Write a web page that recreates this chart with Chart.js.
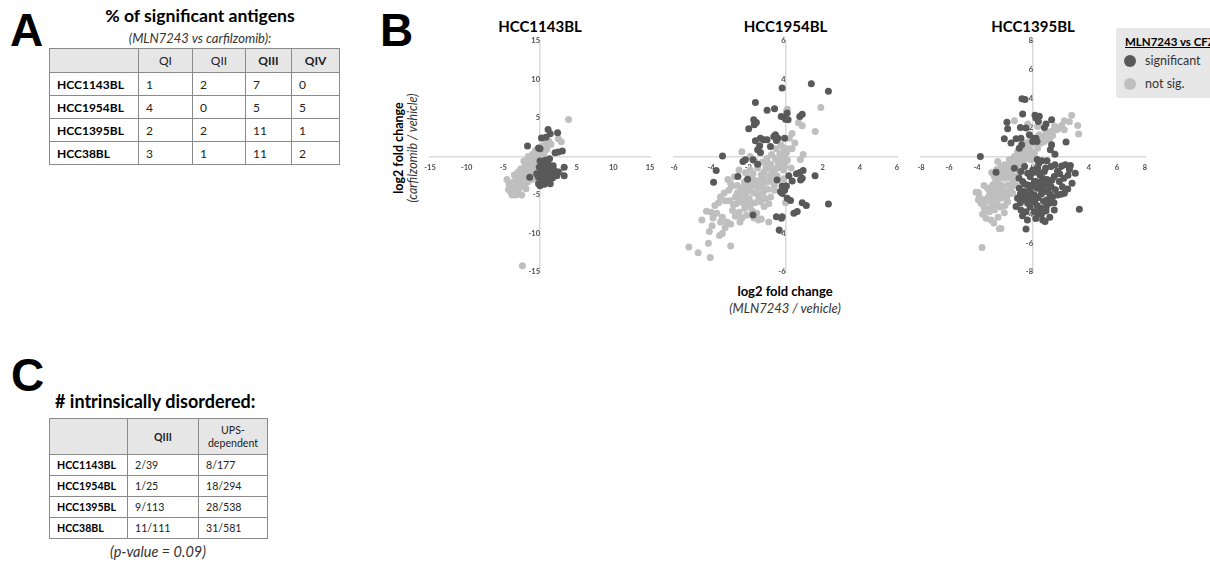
<!DOCTYPE html>
<html>
<head>
<meta charset="utf-8">
<script src="https://cdn.jsdelivr.net/npm/chart.js@4.4.1/dist/chart.umd.min.js"></script>
<style>
  body { margin: 0; width: 1210px; height: 562px; overflow: hidden; background: #fff; position: relative; font-family: Lato, 'Open Sans', sans-serif; color: #000; }
  .abs { position: absolute; white-space: nowrap; }
  .letter { font-family: 'Liberation Sans', Arial, sans-serif; font-weight: bold; font-size: 46px; line-height: 46px; }
  table { border-collapse: collapse; position: absolute; table-layout: fixed; }
  td, th { border: 1px solid #8a8a8a; padding: 0 0 0 7px; text-align: left; color: #222; }
  th { background: #e7e6e6; font-weight: normal; text-align: center; padding: 0; color: #222; }
  td.rl { font-weight: bold; color: #000; }
  .plot { position: absolute; }
  .dot { position: absolute; width: 12px; height: 12px; border-radius: 50%; }
</style>
</head>
<body>

<!-- panel A -->
<div class="abs letter" style="left:10px;top:7px">A</div>
<div class="abs" style="left:55px;width:290px;top:5px;text-align:center;font-weight:bold;font-size:17.6px;line-height:21px">% of significant antigens</div>
<div class="abs" style="left:55px;width:290px;top:31px;text-align:center;font-style:italic;font-size:13px;line-height:15px;color:#333">(MLN7243 vs carfilzomib):</div>
<table id="tableA" style="left:49px;top:48px;font-size:12px"></table>

<!-- panel C -->
<div class="abs letter" style="left:11px;top:352px">C</div>
<div class="abs" style="left:55px;top:391px;font-weight:bold;font-size:18px;line-height:21px"># intrinsically disordered:</div>
<table id="tableC" style="left:49px;top:418px;font-size:10.6px"></table>
<div class="abs" style="left:58px;width:200px;top:543px;text-align:center;font-style:italic;font-size:14.5px;line-height:17px;color:#333">(p-value = 0.09)</div>

<!-- panel B -->
<div class="abs letter" style="left:380px;top:7px">B</div>
<div class="abs" style="left:327px;top:133px;width:160px;height:30px;transform:rotate(-90deg);text-align:center;font-size:12.5px;line-height:14px">
  <div style="font-weight:bold">log2 fold change</div>
  <div style="font-style:italic;color:#333">(carfilzomib / vehicle)</div>
</div>
<div class="abs" style="left:705px;width:160px;top:283px;text-align:center;font-weight:bold;font-size:13px;line-height:16px">log2 fold change</div>
<div class="abs" style="left:705px;width:160px;top:300px;text-align:center;font-style:italic;font-size:13px;line-height:16px;color:#333">(MLN7243 / vehicle)</div>

<div id="titles"></div>
<div class="plot" id="p0"><canvas id="c0"></canvas></div>
<div class="plot" id="p1"><canvas id="c1"></canvas></div>
<div class="plot" id="p2"><canvas id="c2"></canvas></div>

<!-- legend -->
<div class="abs" style="left:1116px;top:28px;width:110px;height:70px;background:#e7e7e7;border-radius:3px"></div>
<div class="abs" style="left:1125px;top:35px;font-weight:bold;font-size:11.5px;line-height:14px;text-decoration:underline">MLN7243 vs CFZ</div>
<div class="dot" style="left:1124px;top:55px;background:#595959"></div>
<div class="abs" style="left:1145px;top:53px;font-size:12.5px;line-height:15px;color:#333">significant</div>
<div class="dot" style="left:1124px;top:78px;background:#bfbfbf"></div>
<div class="abs" style="left:1145px;top:76px;font-size:12.5px;line-height:15px;color:#333">not sig.</div>

<script>
// tables
const cellLines = ['HCC1143BL', 'HCC1954BL', 'HCC1395BL', 'HCC38BL'];
const quadrants = ['QI', 'QII', 'QIII', 'QIV'];
const pctSignificant = [[1, 2, 7, 0], [4, 0, 5, 5], [2, 2, 11, 1], [3, 1, 11, 2]];
const disorderedQIII = ['2/39', '1/25', '9/113', '11/111'];
const disorderedUPS = ['8/177', '18/294', '28/538', '31/581'];

// scatter panels: [log2 FC MLN7243, log2 FC carfilzomib]
const titles = ['HCC1143BL', 'HCC1954BL', 'HCC1395BL'];
const axisLimits = [15, 6, 8];
const tickSteps = [5, 2, 2];

const hcc1143Sig = [[1.1,3.5],[1.4,2.95],[2.4,3.1],[0.2,2.4],[0.8,2.5],[-1.7,1.35],[-0.2,1.1],[0,1.0],[2.05,0.5],[2.5,0.6],[3.05,0.7],
  [3.3,-1.4],[3.3,-2.5],[-1.4,-2.7],[0.7,-0.5],[1.1,-0.95],[1.8,-1.2],[0.2,-1.8],[1.6,-2.0],[2.05,-2.25],[-0.2,-2.7],[0.7,-2.9],
  [1.4,-3.55],[0,-3.8],[2.3,-2.5],[2.5,-2.0],[0.9,-1.6],[0.45,-2.25],[1.1,-2.5],[-0.2,-3.55],[-0.45,-2.25],[0.4,-1.2],[1.3,-0.3],
  [-0.1,-1.4],[0.8,-3.3],[1.7,-2.8],[0.3,-0.7],[1.5,-1.7],[0.6,-3.6],[0.5,-1.6],[1.3,-1.9],[0.9,-2.3],[0.3,-3.0],[1.2,-3.1],
  [0.1,-2.2],[1.9,-1.8],[0.6,-1.0],[0.0,-0.6]];
const hcc1143NotSig = [[-4.2,-3.6],[-3.9,-4.1],[-3.6,-3.3],[-3.4,-4.5],[-3.2,-3.0],[-3.0,-3.8],[-2.8,-2.6],[-2.7,-4.0],[-2.5,-3.2],
  [-2.3,-2.2],[-2.2,-3.6],[-2.0,-2.8],[-1.8,-1.8],[-1.7,-3.3],[-1.5,-2.4],[-1.3,-1.5],[-1.2,-2.0],[-1.0,-1.0],[-0.9,-2.5],[-0.7,-0.6],
  [-0.5,-1.4],[-0.3,-0.2],[-0.2,0.5],[0.0,0.2],[0.2,0.9],[0.4,1.4],[0.6,0.7],[0.8,1.8],[1.0,1.3],[1.2,2.0],[1.5,1.6],[-2.6,-1.6],
  [-2.0,-1.0],[-1.5,-0.4],[-1.0,0.3],[-0.6,0.8],[-3.5,-2.4],[-4.5,-3.0],[-1.6,0.0],[-2.2,-0.6],[2.5,2.3],[2.9,1.9],[3.9,4.8],
  [-2.4,-14.2],[-0.6,-2.9],[-3.0,-2.0],[-1.9,-4.2],[-3.8,-5.0],[-2.9,-4.8],[2.7,-2.0],[-1.1,-3.0],[-4.0,-4.6],
  [-4.3,-4.3],[-3.7,-3.8],[-3.3,-3.6],[-2.9,-3.2],[-2.4,-2.7],[-1.9,-2.3],[-1.4,-1.9],[-0.9,-1.5],[-0.4,-0.8],[0.1,-0.2],
  [0.5,0.3],[0.9,0.9],[-3.1,-4.3],[-2.6,-3.7],[-2.1,-3.1],[-1.6,-2.8],[-1.1,-2.3],[-0.7,-1.9],[-0.3,-1.0],[0.3,0.5],[-0.8,-0.2],
  [-1.3,-0.8],[-1.8,-1.3],[-2.4,-1.9],[-3.0,-2.6],[-3.3,-5.0],[-2.5,-5.0]];

const hcc1954Sig = [[-0.18,3.56],[-1.62,2.81],[-0.99,2.4],[-0.59,2.48],[-0.23,2.08],[0.09,2.26],[-1.71,1.91],[-1.57,1.77],[-1.68,1.65],
  [-1.98,1.44],[-0.54,1.13],[-0.41,0.95],[-0.49,0.83],[-0.63,1.04],[-1.62,0.82],[-1.35,0.95],[-1.17,0.87],[-0.99,0.87],[-1.39,0.56],
  [-1.5,0.35],[-1.35,0.21],[-0.81,0.52],[-0.05,0.95],[-3.39,0.03],[-2.29,-0.26],[-2.16,-0.17],[-1.75,-0.17],[-1.5,-0.4],[-3.73,-0.73],
  [-3.87,-1.34],[-2.56,-1.04],[-2.04,-1.18],[-0.45,-1.22],[-0.18,-1.53],[0,-1.53],[-0.27,-1.82],[-0.04,-1.74],[-1.75,-3.04],[-0.49,-3.13],
  [-0.22,-3.21],[-0.34,-3.82],[1.39,3.78],[2.31,3.39],[0,1.94],[0.14,1.91],[0.77,2.08],[0.9,2.2],[0.18,-1.0],[0.59,-0.9],[0.77,-0.83],
  [0.95,-0.73],[0.81,-1.22],[0.9,-1.13],[0.36,-1.27],[1.59,-1.0],[0.05,-1.53],[-0.18,-1.91],[0.09,-2.17],[0.27,-2.29],[0.9,-2.4],
  [1.12,-2.55],[2.31,-2.47],[0.45,-2.95],[0.63,-2.86],[-0.18,-3.13]];
const hcc1954NotSig = [[-5.2,-4.7],[-4.7,-5.0],[-4.05,-5.25],[-4.15,-4.5],[-2.95,-4.65],[-3.55,-4.1],[-3.4,-4.0],[-4.1,-3.9],[-3.95,-3.6],
  [-4.5,-3.3],[-4.25,-2.85],[-4.0,-2.9],[-3.8,-2.55],[-3.7,-2.95],[-3.4,-3.15],[-3.5,-3.4],[-3.15,-3.4],[-2.95,-3.5],[-2.45,-3.4],
  [-2.35,-3.2],[-3.5,-2.1],[-3.25,-2.3],[-3.05,-1.75],[-2.9,-1.55],[-3.1,-1.2],[-2.95,-1.4],[-2.6,-1.9],[-2.5,-2.25],[-2.8,-2.5],
  [-2.35,0.25],[-2.15,-0.85],[-1.9,-0.7],[-2.05,-2.6],[-1.8,-2.8],[-1.55,-2.95],[-1.45,-3.3],[-1.3,-3.25],[-1.15,-2.6],[-0.9,-2.45],
  [-0.8,-2.1],[-0.6,-1.75],[-2.15,-2.05],[-0.9,-3.4],[-2.7,-2.1],[-2.6,-1.5],[-2.4,-1.7],[-2.3,-2.4],[-2.2,-1.3],[-2.1,-1.8],[-2.0,-1.1],
  [-1.95,-2.2],[-1.85,-1.5],[-1.75,-0.9],[-1.7,-1.9],[-1.6,-1.25],[-1.5,-0.6],[-1.45,-2.1],[-1.4,-1.6],[-1.3,-0.95],[-1.25,-0.3],
  [-1.2,-1.9],[-1.1,-1.35],[-1.05,-0.6],[-1.0,-0.1],[-0.95,-1.7],[-0.85,-1.0],[-0.8,-0.4],[-0.75,0.1],[-0.7,-1.3],[-0.6,-0.7],
  [-0.55,-0.1],[-0.5,0.4],[-0.45,-1.0],[-0.35,-0.35],[-0.3,0.15],[-0.25,0.6],[-0.2,-0.6],[-0.15,0.0],[-0.1,0.45],[0.0,-0.3],[0.05,0.2],
  [-2.5,-2.9],[-2.2,-2.7],[-1.9,-2.5],[-1.65,-2.4],[-1.35,-2.35],[-1.1,-2.2],[-2.85,-2.8],[-3.0,-2.3],[-2.75,-1.05],[-2.5,-0.7],
  [-1.65,-0.25],[-1.9,0.0],[-1.35,0.2],[1.9,2.55],[1.6,1.3],[0.1,2.45],[0.05,2.35],[0.7,1.75],[0.9,1.6],[0.35,1.2],[0.2,0.95],
  [0.35,0.4],[0.95,0.1],[0.8,-0.15],[0.1,-0.2],[-0.1,-0.7],[-0.1,-1.15],[0.0,-2.4],[0.2,0.4],[0.5,0.7],[0.3,-0.6],
  [-2.45,-2.0],[-2.25,-1.55],[-2.0,-1.5],[-1.8,-1.2],[-1.55,-1.55],[-1.35,-1.25],[-1.15,-0.8],[-0.95,-0.35],[-0.65,-0.95],[-0.45,-0.6],
  [-0.25,-0.15],[-0.05,0.1],[-1.55,-1.9],[-1.25,-1.6],[-0.9,-1.3],[-0.6,-1.5],[-0.4,-0.3],[-2.3,-2.0],[-2.1,-2.3],[-1.85,-1.8],
  [-1.2,-1.1],[-0.75,-0.7],[-2.65,-2.45],[-3.3,-1.9],[-3.6,-2.4],[-3.9,-3.2],[-3.25,-3.7],[-2.7,-3.1],[-2.1,-3.05],[-1.7,-3.2]];

const hcc1395Sig = [[-0.79,4.0],[-0.57,3.94],[-0.74,2.94],[-1.86,2.38],[-1.81,1.92],[-0.9,2.01],[-0.5,1.97],[-2.05,1.23],[-1.21,1.23],
  [-0.86,1.27],[-0.81,0.81],[-0.98,0.58],[-1.57,0.93],[-0.26,1.5],[-0.02,1.04],[0.21,1.27],[0.21,2.66],[0.45,2.78],[-3.76,0],
  [-2.64,-1.09],[-0.38,-1.16],[-0.02,-0.93],[0.33,-0.81],[-0.74,-1.74],[-0.38,-1.97],[0.1,-1.74],[-0.98,-2.2],[-0.62,-2.43],
  [-0.14,-2.55],[0.29,-2.2],[-1.1,-2.89],[-0.74,-3.0],[-0.38,-3.24],[0.1,-3.13],[-1.21,-3.47],[-0.86,-3.7],[-0.5,-3.82],[0.1,-3.82],
  [-0.5,-5.02],[-1.33,-0.81],[-0.86,-1.04],[0.14,2.85],[0.33,2.71],[0.38,2.43],[1.33,2.55],[0.93,2.25],[0.81,2.01],[0.05,1.27],
  [0.29,1.04],[1.33,0.81],[1.24,0.46],[1.57,0.16],[2.36,1.0],[0.64,-0.3],[1.29,-0.69],[1.57,-0.58],[2.05,-0.65],[2.31,-0.58],
  [2.67,-0.63],[3.02,-1.16],[0.33,-1.09],[0.81,-1.04],[1.52,-1.39],[1.88,-1.74],[2.79,-1.85],[2.48,-2.25],[1.76,-2.66],[2.0,-2.62],
  [2.24,-2.55],[1.0,-3.0],[1.4,-2.78],[1.17,-3.24],[0.21,-3.82],[0.57,-3.59],[0.93,-3.77],[1.52,-3.7],[3.31,-3.66],[0.69,-4.4],
  [0.86,-4.51],[0.1,-2.66],[0.45,-2.2],[0.81,-1.97],[0.21,-1.74],[0.69,-1.5],[1.17,-1.97],[1.05,-2.43],[-0.2,-1.4],[0.5,-1.3],
  [1.0,-1.6],[1.3,-2.1],[0.6,-2.6],[-0.3,-2.9],[0.3,-3.4],[0.75,-3.1],[1.5,-3.2],[-0.9,-2.6],[0.0,-2.0],[0.9,-0.8],[1.9,-1.2],
  [-1.0,-1.5],[-0.6,-0.7],[0.4,-0.5],[1.6,-2.3],[2.1,-2.1],[-0.2,-3.5],[0.45,-4.0],[-0.75,-4.1],[1.2,-4.2],[2.6,-0.9],
  [-0.9,-3.2],[-0.5,-2.7],[-0.1,-3.0],[0.35,-2.85],[0.8,-2.4],[1.2,-2.6],[-0.6,-1.9],[-0.2,-2.25],[0.55,-1.8],[1.35,-1.65],
  [0.0,-1.1],[0.95,-3.5],[0.2,-4.3],[-0.4,-4.4],[2.2,-1.5],[1.75,-1.0],[0.3,-0.2],[1.0,-0.3],[0.6,-4.0],[2.5,-1.3]];
const hcc1395NotSig = [[-1.33,2.48],[-0.38,2.25],[-4.07,-2.48],[-3.83,-2.78],[-3.48,-3.0],[-3.71,-3.24],[-3.43,-3.77],[-3.12,-3.82],
  [-3.36,-4.28],[-3.0,-4.4],[-2.29,-4.98],[-3.24,-2.2],[-2.88,-1.97],[-2.52,-1.74],[-2.76,-1.39],[-2.4,-1.16],[-2.52,-0.35],
  [-2.05,-0.58],[-1.69,-0.23],[-1.33,0],[-1.1,0.35],[-0.74,0.69],[-0.5,0.93],[-0.26,1.04],[-1.57,-1.04],[-1.33,-1.39],[-1.81,-1.97],
  [-2.05,-2.43],[-2.29,-2.89],[-2.52,-3.36],[-2.76,-3.7],[-3.0,-3.0],[-0.98,-0.58],[-0.62,-0.23],[-0.38,0.12],[-0.14,0.35],
  [-1.57,-1.97],[-1.45,-2.55],[-1.81,-3.13],[-2.05,-1.5],[-2.29,-1.97],[-2.76,-2.43],[-3.64,-6.3],[-3.9,-2.5],[-2.4,-5.0],
  [2.76,2.85],[3.19,2.15],[3.26,1.55],[2.24,2.48],[2.05,2.15],[1.88,1.97],[1.71,1.85],[2.24,1.85],[1.29,1.74],[1.05,1.5],[0.93,1.27],
  [0.81,1.04],[1.17,1.16],[0.33,2.08],[0.45,1.5],[0.57,0.93],[0.33,0.58],[0.1,0.23],[0.93,1.74],[-0.14,-0.23],[0,0.12],
  [-1.9,-0.9],[-2.2,-1.0],[-1.2,-0.8],[-0.9,-0.1],[-1.6,-0.5],[-2.6,-2.1],[-3.2,-2.8],[-2.9,-3.3],[-2.0,-3.4],[-1.7,-2.6],
  [-1.2,-2.0],[-1.0,-1.2],[-3.5,-3.5],[-0.5,0.4],[-0.8,0.2],[-1.9,-2.9],[-2.5,-4.2],[-3.9,-3.0],[-1.1,-2.9],[-2.35,-2.5],
  [-2.7,-1.8],[-2.45,-1.45],[-2.2,-1.3],[-1.95,-1.2],[-1.75,-0.7],[-1.45,-0.65],[-1.25,-0.3],[-1.05,-0.9],[-0.7,-0.4],[-0.45,-0.05],
  [-0.25,0.6],[-3.1,-2.4],[-2.95,-2.7],[-2.5,-2.75],[-2.2,-2.25],[-1.95,-2.55],[-1.6,-2.3],[-1.4,-1.75],[-3.3,-3.1],[-3.05,-3.55],
  [-2.65,-3.1],[-2.35,-3.5],[-2.05,-3.9],[-3.6,-4.0],[-2.8,-4.6],[-1.75,-1.45],[-2.6,-0.9],[-2.95,-1.1],[-3.5,-2.0],[-2.3,-0.7],
  [0.2,0.9],[0.7,1.35],[1.4,1.45],[1.55,2.1],[2.6,2.4]];

const sigSets = [hcc1143Sig, hcc1954Sig, hcc1395Sig];
const notSigSets = [hcc1143NotSig, hcc1954NotSig, hcc1395NotSig];

// layout (chart areas in page px)
const areaLeft = [430, 674, 921];
const areaWidth = [220, 223, 224];
const areaTop = 41, areaHeight = 231, pad = 10;

function buildTables() {
  const a = document.getElementById('tableA');
  const colsA = [89, 54, 53, 46, 48];
  a.innerHTML = '<colgroup>' + colsA.map(w => `<col style="width:${w}px">`).join('') + '</colgroup>' +
    '<tr style="height:24px"><th></th>' + quadrants.map(q => `<th${q === 'QIII' || q === 'QIV' ? ' style="font-weight:bold"' : ''}>${q}</th>`).join('') + '</tr>' +
    cellLines.map((c, i) => `<tr style="height:23px"><td class="rl">${c}</td>` + pctSignificant[i].map(v => `<td>${v}</td>`).join('') + '</tr>').join('');

  const c = document.getElementById('tableC');
  const colsC = [78, 71, 69];
  c.innerHTML = '<colgroup>' + colsC.map(w => `<col style="width:${w}px">`).join('') + '</colgroup>' +
    '<tr style="height:36px"><th></th><th style="font-weight:bold">QIII</th><th style="line-height:13px">UPS-<br>dependent</th></tr>' +
    cellLines.map((l, i) => `<tr style="height:21px"><td class="rl">${l}</td><td>${disorderedQIII[i]}</td><td>${disorderedUPS[i]}</td></tr>`).join('');
}

function buildPanel(i) {
  const box = document.getElementById('p' + i);
  box.style.left = (areaLeft[i] - pad) + 'px';
  box.style.top = (areaTop - pad) + 'px';
  box.style.width = (areaWidth[i] + 2 * pad) + 'px';
  box.style.height = (areaHeight + 2 * pad) + 'px';

  const t = document.createElement('div');
  t.className = 'abs';
  t.textContent = titles[i];
  t.style.cssText = `left:${areaLeft[i] + areaWidth[i] / 2 - 80}px;width:160px;top:17px;text-align:center;font-weight:bold;font-size:15px;line-height:18px`;
  document.getElementById('titles').appendChild(t);

  const lim = axisLimits[i];
  const tickFont = { family: 'Lato', size: 7.5, weight: 'bold' };
  const axis = (other) => ({
    type: 'linear', min: -lim, max: lim,
    position: { [other]: 0 },
    grid: { display: false, drawTicks: true, tickLength: 6 },
    border: { display: true, color: '#d9d9d9', width: 1.5 },
    ticks: { stepSize: tickSteps[i], autoSkip: false, maxRotation: 0, padding: 1, color: '#4d4d4d', font: tickFont }
  });

  new Chart(document.getElementById('c' + i), {
    type: 'scatter',
    data: {
      datasets: [
        { label: 'significant', data: sigSets[i].map(([x, y]) => ({ x, y })), backgroundColor: '#595959', borderWidth: 0, pointRadius: 3.5 },
        { label: 'not sig.', data: notSigSets[i].map(([x, y]) => ({ x, y })), backgroundColor: '#bfbfbf', borderWidth: 0, pointRadius: 3.5 }
      ]
    },
    options: {
      responsive: true, maintainAspectRatio: false, animation: false, events: [],
      layout: { padding: pad },
      plugins: { legend: { display: false }, tooltip: { enabled: false } },
      scales: { x: axis('y'), y: axis('x') }
    }
  });
}

buildTables();
[0, 1, 2].forEach(buildPanel);
</script>
</body>
</html>
